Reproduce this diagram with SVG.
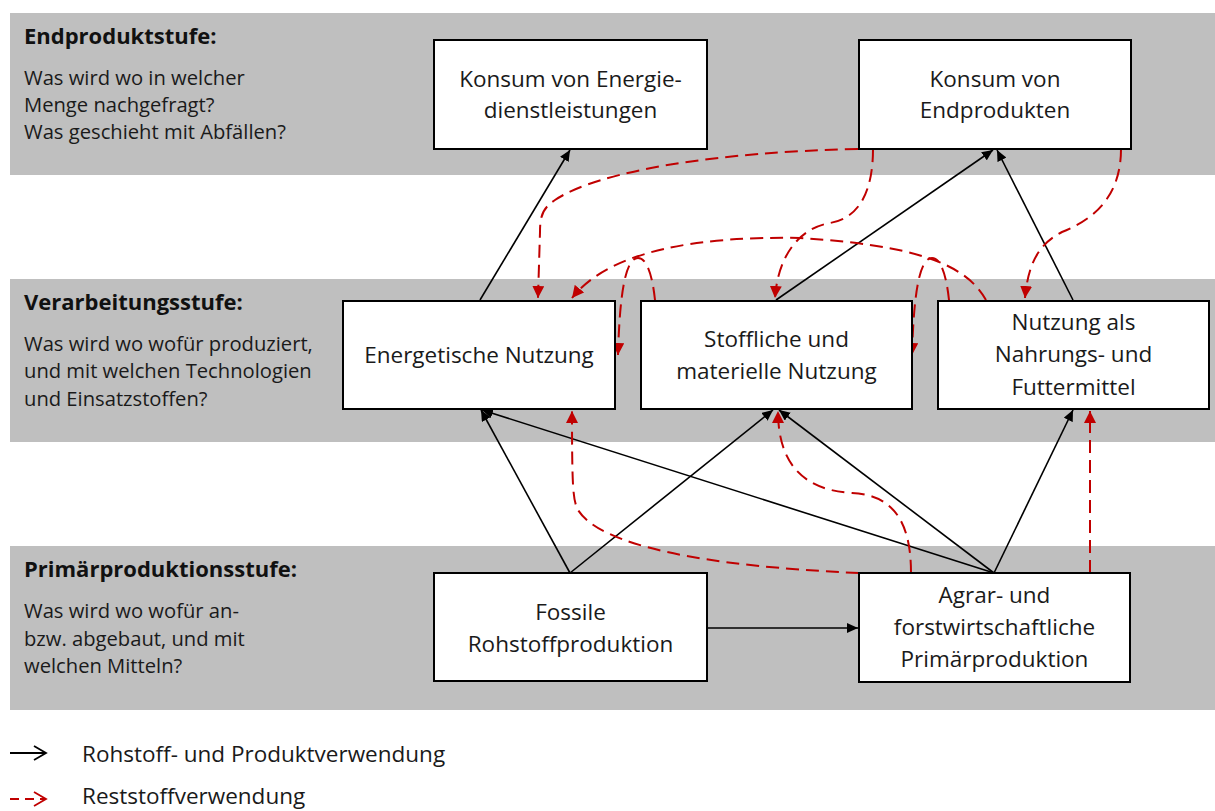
<svg xmlns="http://www.w3.org/2000/svg" width="1215" height="811" viewBox="0 0 1215 811">
  <defs>
    <style>
      .band { fill: #bfbfbf; }
      .box { fill: #ffffff; stroke: #000000; stroke-width: 2; }
      .ntext { font-family: "Open Sans", "Liberation Sans", sans-serif; font-size: 22.5px; fill: #1a1a1a; text-anchor: middle; }
      .head { font-family: "Open Sans", "Liberation Sans", sans-serif; font-size: 22px; font-weight: 700; fill: #111111; }
      .q { font-family: "Open Sans", "Liberation Sans", sans-serif; font-size: 20.2px; fill: #1a1a1a; }
      .leg { font-family: "Open Sans", "Liberation Sans", sans-serif; font-size: 22.5px; fill: #1a1a1a; }
      .solid { fill: none; stroke: #000000; stroke-width: 1.6; marker-end: url(#ab); }
      .dash { fill: none; stroke: #c00000; stroke-width: 2; stroke-dasharray: 13 7; marker-end: url(#ar); }
    </style>
    <marker id="ab" markerUnits="userSpaceOnUse" markerWidth="12" markerHeight="10" refX="11" refY="5" orient="auto">
      <path d="M0,0 L11,5 L0,10 z" fill="#000000"/>
    </marker>
    <marker id="ar" markerUnits="userSpaceOnUse" markerWidth="13" markerHeight="12" refX="12" refY="6" orient="auto">
      <path d="M0,0 L12,6 L0,12 z" fill="#c00000"/>
    </marker>
  </defs>

  <g id="bands">
    <rect class="band" x="10" y="13" width="1205" height="162"/>
    <rect class="band" x="10" y="279" width="1205" height="163"/>
    <rect class="band" x="10" y="546" width="1205" height="164"/>
  </g>

  <g id="stage-labels">
    <text class="head" x="24" y="44">Endproduktstufe:</text>
    <text class="q" x="24" y="85">Was wird wo in welcher</text>
    <text class="q" x="24" y="112">Menge nachgefragt?</text>
    <text class="q" x="24" y="139">Was geschieht mit Abfällen?</text>

    <text class="head" x="24" y="310">Verarbeitungsstufe:</text>
    <text class="q" x="24" y="351">Was wird wo wofür produziert,</text>
    <text class="q" x="24" y="378">und mit welchen Technologien</text>
    <text class="q" x="24" y="406">und Einsatzstoffen?</text>

    <text class="head" x="24" y="577">Primärproduktionsstufe:</text>
    <text class="q" x="24" y="618">Was wird wo wofür an-</text>
    <text class="q" x="24" y="646">bzw. abgebaut, und mit</text>
    <text class="q" x="24" y="673">welchen Mitteln?</text>
  </g>

  <g id="connectors">
    <!-- solid -->
    <path class="solid" d="M480,300 L570,150"/>
    <path class="solid" d="M776,300 L993,150"/>
    <path class="solid" d="M1073,300 L997,150"/>
    <path class="solid" d="M570,573 L481,410"/>
    <path class="solid" d="M570,573 L773,410"/>
    <path class="solid" d="M994,573 L482,410"/>
    <path class="solid" d="M994,573 L779,410"/>
    <path class="solid" d="M994,573 L1073,410"/>
    <path class="solid" d="M707,628 L858,628"/>
    <!-- dashed red -->
    <path class="dash" d="M858,149 C720,152 600,170 555,200 C543,208 540,215 540,232 L538,298"/>
    <path class="dash" d="M873,149 C873,190 860,218 830,223 C800,228 778,255 775,298"/>
    <path class="dash" d="M1121,149 C1121,198 1092,220 1062,232 C1038,244 1028,265 1025,298"/>
    <path class="dash" d="M986,300 C965,262 910,245 800,238 C700,236 610,250 572,298"/>
    <path class="dash" d="M655,300 C652,272 646,258 638,258 C628,258 620,280 618,355"/>
    <path class="dash" d="M949,300 C946,272 940,258 932,258 C922,258 914,280 912,355"/>
    <path class="dash" d="M859,573 C700,566 600,545 578,510 C573,500 572,490 572,411"/>
    <path class="dash" d="M911,573 C911,520 892,495 852,493 C800,490 778,460 778,411"/>
    <path class="dash" d="M1090,573 L1090,411"/>
  </g>

  <g id="node-konsum-energie">
    <rect class="box" x="434" y="40" width="273" height="109"/>
    <text class="ntext" x="570.5" y="87">Konsum von Energie-</text>
    <text class="ntext" x="570.5" y="118">dienstleistungen</text>
  </g>
  <g id="node-konsum-endprodukte">
    <rect class="box" x="859" y="40" width="272" height="109"/>
    <text class="ntext" x="995" y="87">Konsum von</text>
    <text class="ntext" x="995" y="118">Endprodukten</text>
  </g>
  <g id="node-energetisch">
    <rect class="box" x="343" y="301" width="272" height="108"/>
    <text class="ntext" x="479" y="363">Energetische Nutzung</text>
  </g>
  <g id="node-stofflich">
    <rect class="box" x="641" y="301" width="271" height="108"/>
    <text class="ntext" x="776.5" y="347">Stoffliche und</text>
    <text class="ntext" x="776.5" y="379">materielle Nutzung</text>
  </g>
  <g id="node-nahrung">
    <rect class="box" x="938" y="301" width="271" height="108"/>
    <text class="ntext" x="1073.5" y="330">Nutzung als</text>
    <text class="ntext" x="1073.5" y="362">Nahrungs- und</text>
    <text class="ntext" x="1073.5" y="395">Futtermittel</text>
  </g>
  <g id="node-fossil">
    <rect class="box" x="434" y="573" width="273" height="108"/>
    <text class="ntext" x="570.5" y="620">Fossile</text>
    <text class="ntext" x="570.5" y="652">Rohstoffproduktion</text>
  </g>
  <g id="node-agrar">
    <rect class="box" x="859" y="573" width="271" height="109"/>
    <text class="ntext" x="994.5" y="603">Agrar- und</text>
    <text class="ntext" x="994.5" y="635">forstwirtschaftliche</text>
    <text class="ntext" x="994.5" y="667">Primärproduktion</text>
  </g>

  <g id="legend">
    <line x1="10" y1="753" x2="46" y2="753" stroke="#000000" stroke-width="1.8"/>
    <polyline points="34,746 46,753 34,760" fill="none" stroke="#000000" stroke-width="1.8"/>
    <text class="leg" x="82" y="762">Rohstoff- und Produktverwendung</text>
    <line x1="10" y1="799" x2="46" y2="799" stroke="#c00000" stroke-width="1.8" stroke-dasharray="9 6"/>
    <polyline points="34,792 46,799 34,806" fill="none" stroke="#c00000" stroke-width="1.8"/>
    <text class="leg" x="82" y="804">Reststoffverwendung</text>
  </g>
</svg>
